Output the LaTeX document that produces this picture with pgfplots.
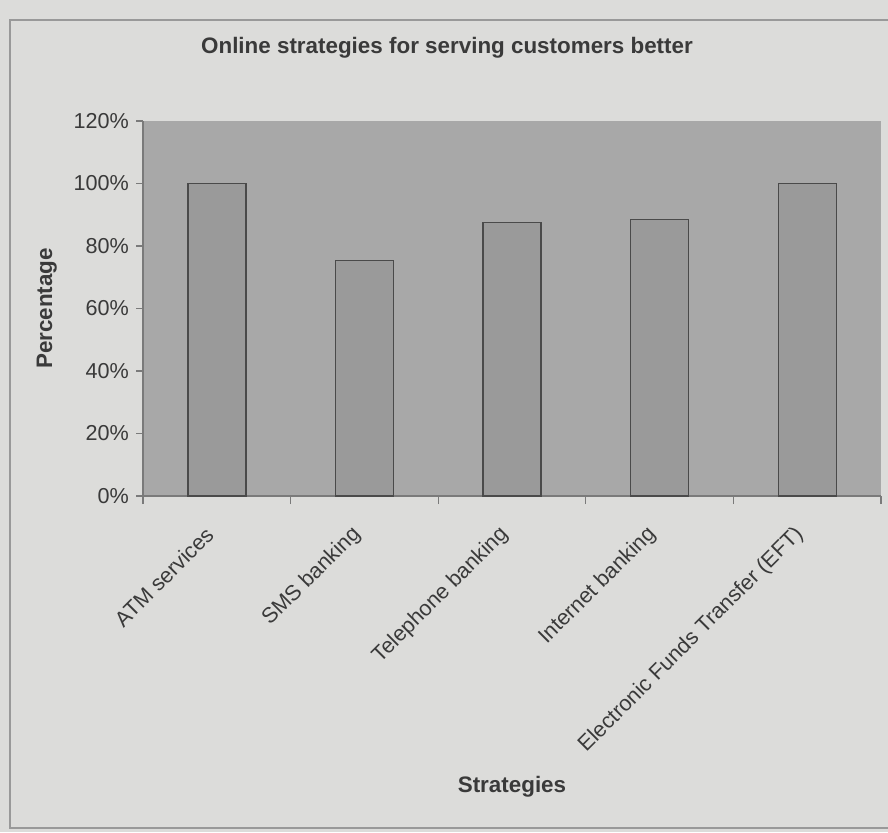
\documentclass[border=0pt]{standalone}
\usepackage{fontspec}
\setmainfont{Liberation Sans}
\usepackage{pgfplots}
\pgfplotsset{compat=1.18}
\definecolor{pagebg}{HTML}{DCDCDA}
\definecolor{plotbg}{HTML}{A8A8A8}
\definecolor{barfill}{HTML}{9A9A9A}
\definecolor{barline}{HTML}{4A4A4A}
\definecolor{axisgray}{HTML}{7A7A7A}
\definecolor{textgray}{HTML}{3A3A3A}
\begin{document}
\begin{tikzpicture}
\path[use as bounding box, fill=pagebg] (0,0) rectangle (444pt,416pt);
\draw[color=gray!80, line width=0.6pt] (444pt,406pt) -- (5pt,406pt) -- (5pt,2pt) -- (444pt,2pt);
\node[font=\fontsize{11.2}{13}\selectfont\bfseries, text=textgray] at (223.5pt,392pt) {Online strategies for serving customers better};
\begin{axis}[
  at={(71.5pt,168pt)}, anchor=south west,
  scale only axis, width=369pt, height=187.5pt,
  xmin=-0.5, xmax=4.5, ymin=0, ymax=120,
  axis background/.style={fill=plotbg},
  axis x line*=bottom, axis y line*=left,
  axis line style={color=axisgray, line width=0.6pt},
  ytick={0,20,...,120},
  yticklabel={\pgfmathprintnumber{\tick}\%},
  xtick={0,1,2,3,4},
  xticklabels={ATM services, SMS banking, Telephone banking, Internet banking, Electronic Funds Transfer (EFT)},
  minor xtick={-0.5,0.5,1.5,2.5,3.5,4.5},
  major x tick style={draw=none},
  minor tick length=4pt,
  major tick length=3.5pt,
  tick align=outside,
  tick style={color=axisgray, line width=0.6pt},
  /pgf/number format/assume math mode=true,
  ticklabel style={font=\fontsize{10.8}{12}\selectfont, text=textgray},
  xticklabel style={rotate=45, anchor=east, yshift=-7.4pt, xshift=-9pt},
  ylabel={Percentage},
  ylabel style={font=\fontsize{11.2}{13}\selectfont\bfseries, text=textgray, yshift=1.5pt},
  xlabel={Strategies},
  xlabel style={font=\fontsize{11.2}{13}\selectfont\bfseries, text=textgray, at={(axis description cs:0.5,0)}, anchor=center, yshift=-145.5pt},
  ybar, bar width=29pt,
]
\addplot[fill=barfill, draw=barline, line width=0.7pt] coordinates {(0,100) (1,75.3) (2,87.5) (3,88.5) (4,100)};
\end{axis}
\end{tikzpicture}
\end{document}
